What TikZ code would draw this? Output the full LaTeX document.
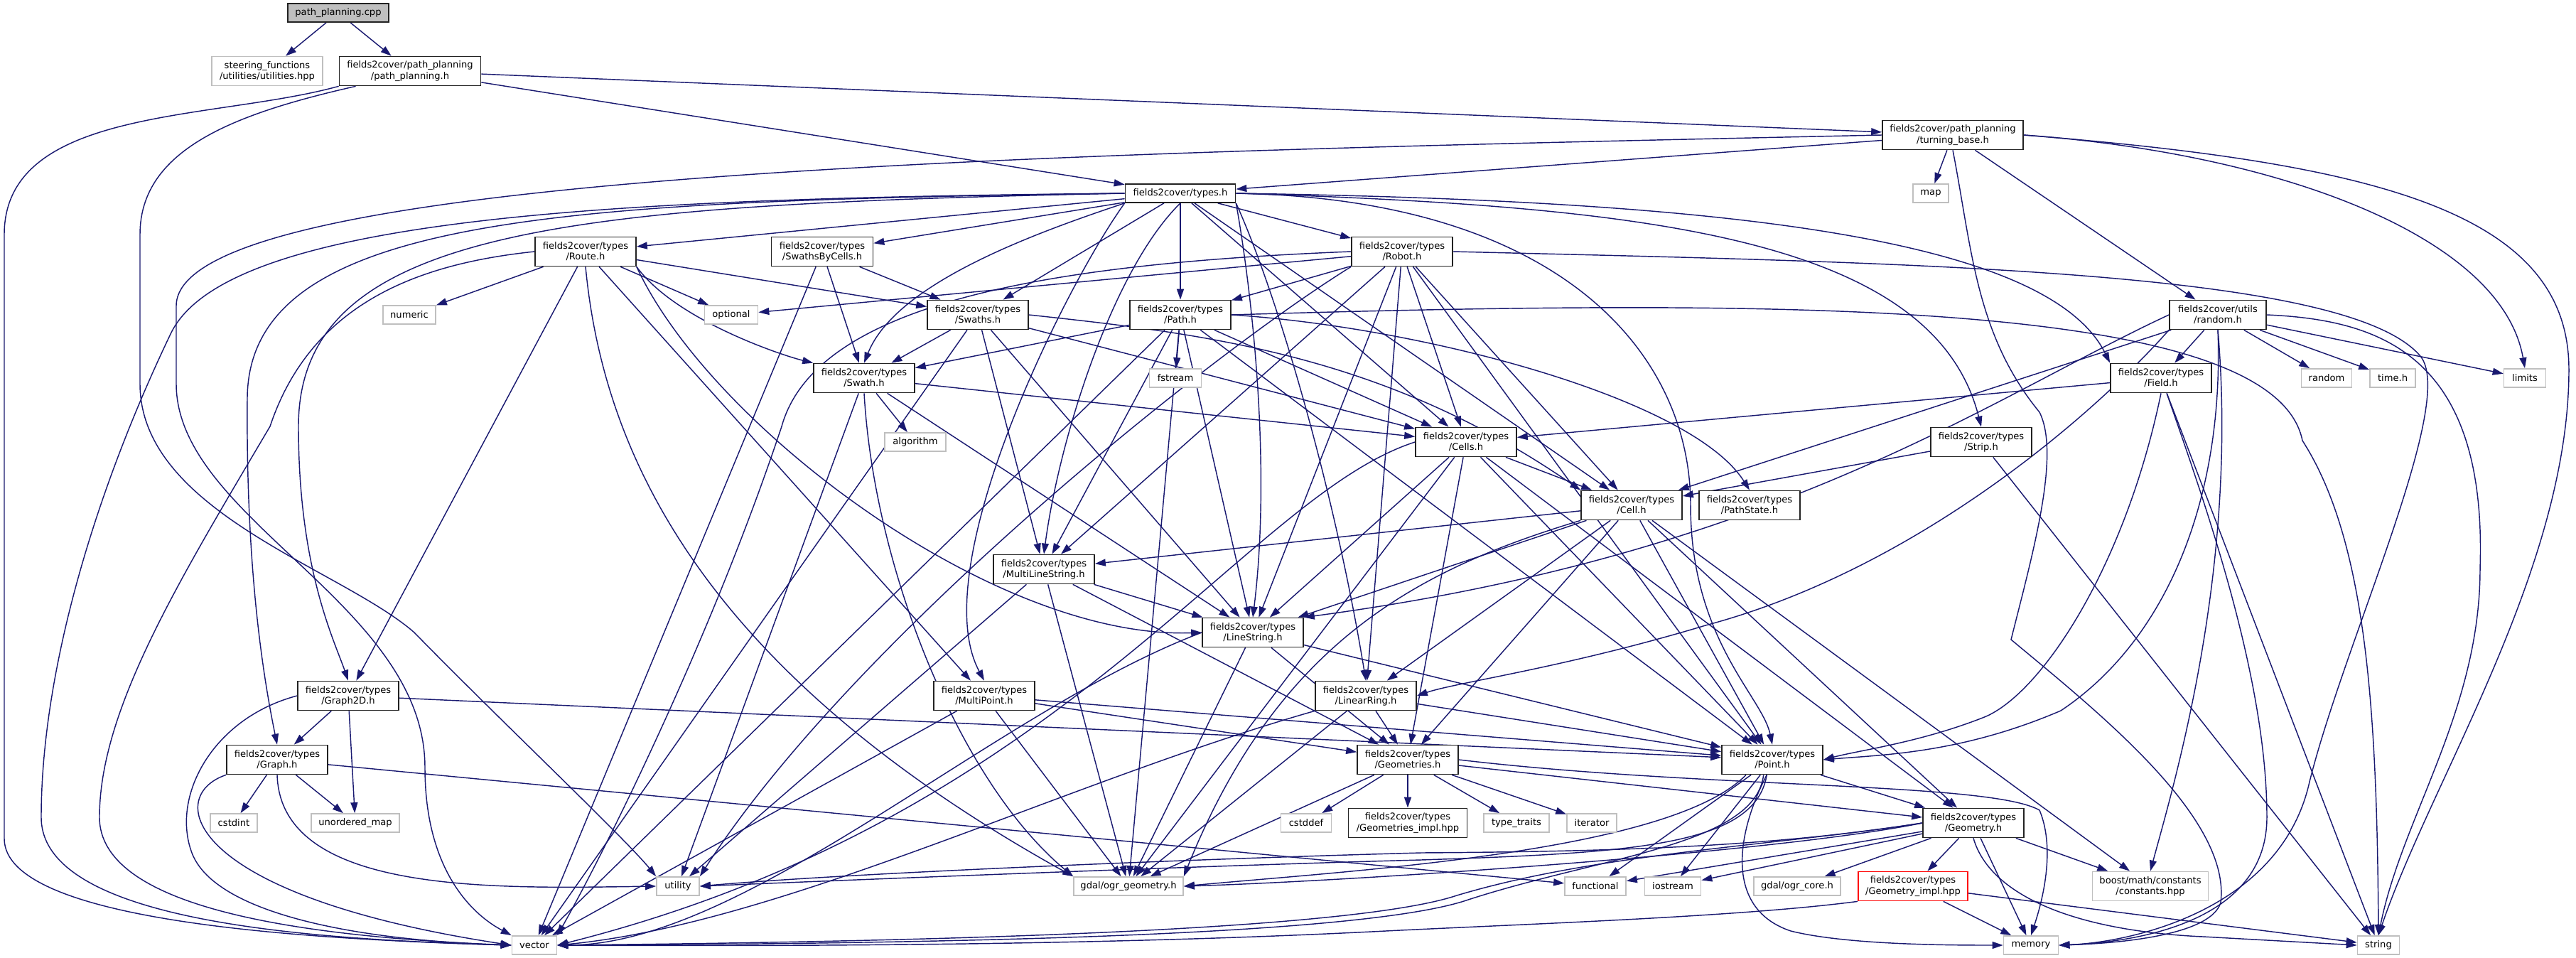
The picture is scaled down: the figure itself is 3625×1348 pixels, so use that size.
\documentclass[tikz,border=0pt]{standalone}
\usepackage{fontspec}
\setmainfont{DejaVu Sans}
\usetikzlibrary{arrows.meta}
\pgfdeclarelayer{back}
\pgfdeclarelayer{bg}
\pgfsetlayers{back,bg,main}
\definecolor{edgecol}{HTML}{191970}
\definecolor{sysgrey}{HTML}{BFBFBF}
\definecolor{cppfill}{HTML}{BFBFBF}
\definecolor{boxline}{HTML}{222222}
\newcommand\nodefont{\fontsize{6.55pt}{7.6pt}\selectfont}
\tikzset{
  box/.style={draw=boxline,line width=0.85pt,fill=white,align=center,inner sep=1pt,font=\nodefont},
  sys/.style={box,draw=sysgrey},
  redbox/.style={box,draw=red},
  one/.style={minimum height=13pt},
  two/.style={minimum height=20.5pt},
  dep/.style={draw=edgecol,line width=0.72pt,-{Triangle[length=7.5pt,width=5pt]}},
}
\begin{document}
\begin{tikzpicture}[x=0.5pt,y=-0.5pt]
\useasboundingbox (0,0) rectangle (3625,1348);
\begin{pgfonlayer}{back}
\fill[white] (0,0) rectangle (3625,1348);
\end{pgfonlayer}
% ---------------- nodes ----------------
\node[box,one,minimum width=71pt,fill=cppfill] (cpp) at (476,18) {path\_planning.cpp};
\node[sys,two,minimum width=78pt] (uh) at (376,100) {steering\_functions\\/utilities/utilities.hpp};
\node[box,two,minimum width=99.5pt] (pph) at (577,100) {fields2cover/path\_planning\\/path\_planning.h};
\node[box,two,minimum width=99pt] (tb) at (2748,190) {fields2cover/path\_planning\\/turning\_base.h};
\node[sys,one,minimum width=25pt] (map) at (2717,272) {map};
\node[box,one,minimum width=77.5pt] (types) at (1661,272) {fields2cover/types.h};
\node[box,two,minimum width=71pt] (route) at (824,354) {fields2cover/types\\/Route.h};
\node[box,two,minimum width=71.5pt] (sbc) at (1157,354) {fields2cover/types\\/SwathsByCells.h};
\node[box,two,minimum width=71pt] (robot) at (1973,354) {fields2cover/types\\/Robot.h};
\node[sys,one,minimum width=37pt] (numeric) at (576,443) {numeric};
\node[sys,one,minimum width=37.5pt] (optional) at (1029,443) {optional};
\node[box,two,minimum width=71pt] (swaths) at (1376,443) {fields2cover/types\\/Swaths.h};
\node[box,two,minimum width=71pt] (path) at (1661,443) {fields2cover/types\\/Path.h};
\node[box,two,minimum width=68pt] (randomh) at (3121,443) {fields2cover/utils\\/random.h};
\node[box,two,minimum width=71pt] (swath) at (1216,532) {fields2cover/types\\/Swath.h};
\node[sys,one,minimum width=36.5pt] (fstream) at (1654,532) {fstream};
\node[box,two,minimum width=71pt] (field) at (3041,532) {fields2cover/types\\/Field.h};
\node[sys,one,minimum width=35.5pt] (stdrandom) at (3274,532) {random};
\node[sys,one,minimum width=32pt] (timeh) at (3367,532) {time.h};
\node[sys,one,minimum width=29.5pt] (limits) at (3553,532) {limits};
\node[sys,one,minimum width=43pt] (algorithm) at (1288,622) {algorithm};
\node[box,two,minimum width=71pt] (cells) at (2063,622) {fields2cover/types\\/Cells.h};
\node[box,two,minimum width=71pt] (strip) at (2788,622) {fields2cover/types\\/Strip.h};
\node[box,two,minimum width=71pt] (cell) at (2296,711) {fields2cover/types\\/Cell.h};
\node[box,two,minimum width=71pt] (pathstate) at (2462,711) {fields2cover/types\\/PathState.h};
\node[box,two,minimum width=71pt] (mls) at (1469,801) {fields2cover/types\\/MultiLineString.h};
\node[box,two,minimum width=71pt] (ls) at (1763,890) {fields2cover/types\\/LineString.h};
\node[box,two,minimum width=71pt] (graph2d) at (490,979) {fields2cover/types\\/Graph2D.h};
\node[box,two,minimum width=71pt] (mp) at (1385,979) {fields2cover/types\\/MultiPoint.h};
\node[box,two,minimum width=71pt] (lr) at (1922,979) {fields2cover/types\\/LinearRing.h};
\node[box,two,minimum width=71pt] (graph) at (390,1069) {fields2cover/types\\/Graph.h};
\node[box,two,minimum width=71pt] (geometries) at (1981,1069) {fields2cover/types\\/Geometries.h};
\node[box,two,minimum width=71pt] (point) at (2494,1069) {fields2cover/types\\/Point.h};
\node[sys,one,minimum width=33pt] (cstdint) at (329,1158) {cstdint};
\node[sys,one,minimum width=62pt] (umap) at (500,1158) {unordered\_map};
\node[sys,one,minimum width=35.5pt] (cstddef) at (1838,1158) {cstddef};
\node[box,two,minimum width=83.5pt] (gimpl) at (1981,1158) {fields2cover/types\\/Geometries\_impl.hpp};
\node[sys,one,minimum width=46pt] (typetraits) at (2134,1158) {type\_traits};
\node[sys,one,minimum width=35pt] (iterator) at (2240,1158) {iterator};
\node[box,two,minimum width=71pt] (geometry) at (2777,1158) {fields2cover/types\\/Geometry.h};
\node[sys,one,minimum width=30pt] (utility) at (954,1247) {utility};
\node[sys,one,minimum width=77pt] (gdal) at (1588,1247) {gdal/ogr\_geometry.h};
\node[sys,one,minimum width=43pt] (functional) at (2245,1247) {functional};
\node[sys,one,minimum width=39.5pt] (iostream) at (2354,1247) {iostream};
\node[sys,one,minimum width=61pt] (ogrcore) at (2529,1247) {gdal/ogr\_core.h};
\node[redbox,two,minimum width=77pt] (geomimpl) at (2692,1247) {fields2cover/types\\/Geometry\_impl.hpp};
\node[sys,two,minimum width=81.5pt] (boost) at (3026,1247) {boost/math/constants\\/constants.hpp};
\node[sys,one,minimum width=31.5pt] (vector) at (752,1330) {vector};
\node[sys,one,minimum width=38.5pt] (memory) at (2858,1330) {memory};
\node[sys,one,minimum width=29.5pt] (string) at (3347,1330) {string};
% ---------------- edges ----------------
\begin{pgfonlayer}{bg}
% straight
\draw[dep] (cpp) -- (uh);
\draw[dep] (cpp) -- (pph);
\draw[dep] (pph) -- (tb);
\draw[dep] (pph) -- (types);
\draw[dep] (tb) -- (types);
\draw[dep] (tb) -- (map);
\draw[dep] (tb) -- (randomh);
\draw[dep] (types) -- (route);
\draw[dep] (types) -- (sbc);
\draw[dep] (types) -- (robot);
\draw[dep] (types) -- (swaths);
\draw[dep] (types) -- (path);
\draw[dep] (types) -- (cells);
\draw[dep] (types) -- (cell);
\draw[dep] (route) -- (numeric);
\draw[dep] (route) -- (optional);
\draw[dep] (route) -- (swaths);
\draw[dep] (route) -- (graph2d);
\draw[dep] (route) -- (mp);
\draw[dep] (sbc) -- (swaths);
\draw[dep] (sbc) -- (swath);
\draw[dep] (sbc) -- (vector);
\draw[dep] (robot) -- (optional);
\draw[dep] (robot) -- (path);
\draw[dep] (robot) -- (cells);
\draw[dep] (robot) -- (cell);
\draw[dep] (robot) -- (mls);
\draw[dep] (robot) -- (ls);
\draw[dep] (robot) -- (lr);
\draw[dep] (robot) -- (point);
\draw[dep] (swaths) -- (swath);
\draw[dep] (swaths) -- (mls);
\draw[dep] (swaths) -- (ls);
\draw[dep] (swaths) -- (cells);
\draw[dep] (swaths) -- (vector);
\draw[dep] (path) -- (swath);
\draw[dep] (path) -- (fstream);
\draw[dep] (path) -- (mls);
\draw[dep] (path) -- (ls);
\draw[dep] (path) -- (cells);
\draw[dep] (path) -- (point);
\draw[dep] (path) -- (vector);
\draw[dep] (path) -- (gdal);
\draw[dep] (swath) -- (algorithm);
\draw[dep] (swath) -- (ls);
\draw[dep] (swath) -- (cells);
\draw[dep] (swath) -- (utility);
\draw[dep] (cells) -- (cell);
\draw[dep] (cells) -- (ls);
\draw[dep] (cells) -- (geometries);
\draw[dep] (cells) -- (point);
\draw[dep] (cells) -- (geometry);
\draw[dep] (cells) -- (gdal);
\draw[dep] (cell) -- (mls);
\draw[dep] (cell) -- (ls);
\draw[dep] (cell) -- (lr);
\draw[dep] (cell) -- (geometries);
\draw[dep] (cell) -- (point);
\draw[dep] (cell) -- (geometry);
\draw[dep] (cell) -- (boost);
\draw[dep] (strip) -- (cell);
\draw[dep] (strip) -- (string);
\draw[dep] (field) -- (cells);
\draw[dep] (field) -- (string);
\draw[dep] (randomh) -- (field);
\draw[dep] (randomh) -- (stdrandom);
\draw[dep] (randomh) -- (timeh);
\draw[dep] (randomh) -- (limits);
\draw[dep] (randomh) -- (cell);
\draw[dep] (mls) -- (ls);
\draw[dep] (mls) -- (geometries);
\draw[dep] (mls) -- (gdal);
\draw[dep] (mls) -- (utility);
\draw[dep] (ls) -- (geometries);
\draw[dep] (ls) -- (point);
\draw[dep] (ls) -- (gdal);
\draw[dep] (lr) -- (geometries);
\draw[dep] (lr) -- (point);
\draw[dep] (lr) -- (gdal);
\draw[dep] (mp) -- (point);
\draw[dep] (mp) -- (geometries);
\draw[dep] (mp) -- (gdal);
\draw[dep] (mp) -- (vector);
\draw[dep] (graph2d) -- (graph);
\draw[dep] (graph2d) -- (umap);
\draw[dep] (graph2d) -- (point);
\draw[dep] (graph) -- (cstdint);
\draw[dep] (graph) -- (umap);
\draw[dep] (graph) -- (functional);
\draw[dep] (geometries) -- (cstddef);
\draw[dep] (geometries) -- (gimpl);
\draw[dep] (geometries) -- (typetraits);
\draw[dep] (geometries) -- (iterator);
\draw[dep] (geometries) -- (gdal);
\draw[dep] (geometries) -- (geometry);
\draw[dep] (point) -- (geometry);
\draw[dep] (point) -- (functional);
\draw[dep] (point) -- (iostream);
\draw[dep] (geometry) -- (geomimpl);
\draw[dep] (geometry) -- (memory);
\draw[dep] (geometry) -- (boost);
\draw[dep] (geometry) -- (ogrcore);
\draw[dep] (geometry) -- (functional);
\draw[dep] (geometry) -- (iostream);
\draw[dep] (geomimpl) -- (memory);
\draw[dep] (geomimpl) -- (string);
% curved
\draw[dep] (pph.south west) .. controls (300,170) and (6,150) .. (6,330) -- (6,1180) .. controls (6,1300) and (450,1322) .. (vector.west);
\draw[dep] ([xshift=12pt]pph.south west) .. controls (330,160) and (197,210) .. (197,330) -- (197,540) .. controls (197,720) and (480,800) .. (583,890) .. controls (700,1010) and (880,1180) .. (utility.north west);
\draw[dep] (tb.west) .. controls (1500,215) and (250,240) .. (248,430) -- (248,540) .. controls (248,730) and (598,850) .. (598,1080) .. controls (598,1250) and (690,1300) .. (vector.north west);
\draw[dep] (tb.south) .. controls (2775,350) and (2780,470) .. (2870,580) .. controls (2900,640) and (2860,780) .. (2830,900) .. controls (2950,1000) and (3140,1150) .. (3125,1270) .. controls (3110,1320) and (2960,1328) .. (memory.east);
\draw[dep] (tb.east) .. controls (3350,230) and (3615,300) .. (3615,520) .. controls (3615,800) and (3420,1100) .. (string.north);
\draw[dep] (tb.east) .. controls (3200,215) and (3520,330) .. (limits.north);
\draw[dep] (types.west) .. controls (900,279) and (320,300) .. (240,470) .. controls (130,700) and (58,950) .. (58,1150) .. controls (58,1300) and (450,1322) .. (vector.west);
\draw[dep] (types.west) .. controls (800,283) and (350,300) .. (348,560) .. controls (346,800) and (370,950) .. (graph.north);
\draw[dep] (types.west) .. controls (800,288) and (420,320) .. (420,600) .. controls (420,800) and (470,900) .. (graph2d.north);
\draw[dep] (types.south west) .. controls (1450,330) and (1260,400) .. (swath.north);
\draw[dep] (types.east) .. controls (2300,290) and (2720,330) .. (strip.north);
\draw[dep] (types.east) .. controls (2400,282) and (2880,330) .. (field.north west);
\draw[dep] (types.south) .. controls (1565,380) and (1490,620) .. (mls.north);
\draw[dep] (types.south east) .. controls (1760,400) and (1790,650) .. (ls.north);
\draw[dep] (types.south east) .. controls (1800,420) and (1880,700) .. (lr.north);
\draw[dep] (types.south west) .. controls (1500,400) and (1300,800) .. (mp.north);
\draw[dep] (types.east) .. controls (2200,280) and (2379,500) .. (2379,711) .. controls (2379,900) and (2480,980) .. (point.north);
\draw[dep] (route.west) .. controls (600,370) and (440,420) .. (380,600) .. controls (250,820) and (140,1000) .. (140,1150) .. controls (140,1290) and (480,1320) .. (vector.west);
\draw[dep] (route.south east) .. controls (950,450) and (1100,500) .. (swath.north west);
\draw[dep] (route.south east) .. controls (1000,600) and (1400,900) .. (ls.west);
\draw[dep] (route.south) .. controls (850,650) and (1000,950) .. (gdal.north west);
\draw[dep] (robot.south west) .. controls (1700,500) and (1200,900) .. (utility.north east);
\draw[dep] (robot.west) .. controls (1500,370) and (1150,420) .. (1100,600) .. controls (1000,900) and (850,1200) .. (vector.north east);
\draw[dep] (robot.east) .. controls (2700,370) and (3300,380) .. (3405,500) .. controls (3460,560) and (3300,900) .. (3250,1100) .. controls (3210,1280) and (3000,1326) .. (memory.east);
\draw[dep] (swaths.east) .. controls (1700,470) and (1950,500) .. (cell.north west);
\draw[dep] (path.east) .. controls (2000,460) and (2380,560) .. (pathstate.north);
\draw[dep] (path.east) .. controls (2500,420) and (3200,420) .. (3240,620) .. controls (3330,760) and (3345,1000) .. (string.north);
\draw[dep] (swath.south) .. controls (1230,800) and (1350,1100) .. (gdal.north west);
\draw[dep] (cells.west) .. controls (1750,700) and (1500,1150) .. (vector.east);
\draw[dep] (cell.south west) .. controls (2000,800) and (1800,900) .. (gdal.north east);
\draw[dep] (field.south) .. controls (2990,800) and (2870,980) .. (2790,1010) .. controls (2700,1045) and (2620,1055) .. (point.east);
\draw[dep] ([xshift=4pt]field.south) .. controls (3100,700) and (3190,950) .. (3190,1150) .. controls (3190,1300) and (3000,1326) .. (memory.east);
\draw[dep] (randomh.east) .. controls (3350,450) and (3500,500) .. (3490,800) .. controls (3490,1000) and (3380,1150) .. (string.north);
\draw[dep] (randomh.south) .. controls (3130,700) and (3050,900) .. (2900,1000) .. controls (2760,1060) and (2650,1062) .. (point.east);
\draw[dep] (randomh.west) .. controls (2800,560) and (2500,780) .. (ls.north east);
\draw[dep] (randomh.south west) .. controls (2950,580) and (2700,800) .. (2400,880) .. controls (2200,940) and (2050,960) .. (lr.east);
\draw[dep] (randomh.south) .. controls (3150,800) and (3060,1100) .. (boost.north);
\draw[dep] (ls.west) .. controls (1400,1000) and (1050,1330) .. (vector.east);
\draw[dep] (lr.south west) .. controls (1500,1100) and (1100,1300) .. (vector.east);
\draw[dep] (graph2d.west) .. controls (300,1010) and (240,1120) .. (270,1200) .. controls (300,1280) and (480,1322) .. (vector.west);
\draw[dep] (graph.south west) .. controls (230,1120) and (260,1260) .. (vector.west);
\draw[dep] (graph.south) .. controls (395,1260) and (700,1250) .. (utility.west);
\draw[dep] (geometries.east) .. controls (2400,1110) and (2800,1100) .. (2870,1140) .. controls (2895,1200) and (2870,1280) .. (memory.north);
\draw[dep] (point.210) .. controls (2350,1200) and (1900,1225) .. (gdal.east);
\draw[dep] (point.250) .. controls (2470,1190) and (2300,1200) .. (2000,1210) .. controls (1700,1218) and (1200,1238) .. (utility.east);
\draw[dep] (point.240) .. controls (2470,1190) and (2250,1205) .. (2060,1268) .. controls (1900,1318) and (1300,1328) .. (vector.east);
\draw[dep] (point.250) .. controls (2440,1180) and (2430,1280) .. (2520,1310) .. controls (2600,1330) and (2750,1330) .. (memory.west);
\draw[dep] (geometry.west) .. controls (2500,1200) and (1900,1240) .. (gdal.east);
\draw[dep] (geometry.west) .. controls (2500,1190) and (2300,1198) .. (2000,1200) .. controls (1700,1208) and (1200,1228) .. (utility.east);
\draw[dep] (geometry.west) .. controls (2500,1190) and (2250,1200) .. (2050,1260) .. controls (1900,1310) and (1300,1325) .. (vector.east);
\draw[dep] (geometry.south) .. controls (2800,1260) and (2920,1310) .. (3100,1318) -- (string.west);
\draw[dep] (geomimpl.south west) .. controls (2450,1290) and (2150,1300) .. (1950,1310) .. controls (1600,1328) and (1200,1332) .. (vector.east);
\end{pgfonlayer}
\end{tikzpicture}
\end{document}
